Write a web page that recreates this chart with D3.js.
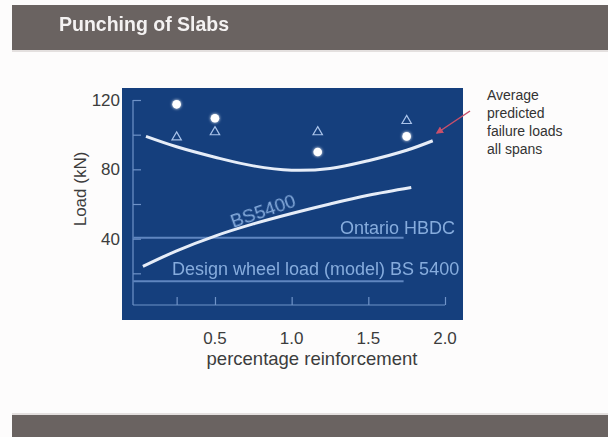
<!DOCTYPE html>
<html><head><meta charset="utf-8">
<script src="https://cdn.jsdelivr.net/npm/d3@7"></script>
<style>html,body{margin:0;padding:0;background:#fdfcfc;}svg{display:block;font-family:"Liberation Sans",Arial,sans-serif;}</style>
</head><body>
<script>
const title = "Punching of Slabs";
const yTickLabels = [40, 80, 120];
const xTickLabels = [0.5, 1.0, 1.5, 2.0];
const yInnerTicks = [20, 40, 60, 80, 100, 120];
const xInnerTicks = [0.25, 0.5, 1.0, 1.5, 2.0];
// average predicted failure loads (all spans)
const avgX = [0.05, 0.25, 0.5, 0.75, 1.0, 1.25, 1.5, 1.75, 1.92];
const avgY = [99, 93, 87, 82, 79.5, 80.5, 85, 91, 96.5];
// BS5400 curve
const bsX = [0.03, 0.25, 0.5, 0.75, 1.0, 1.25, 1.5, 1.78];
const bsY = [24, 33, 41.5, 48.5, 54.5, 60, 65, 69.5];
// test results
const circX = [0.25, 0.5, 1.17, 1.75];
const circY = [117.5, 109.5, 90, 99];
const triX = [0.25, 0.5, 1.17, 1.75];
const triY = [98.5, 101.5, 101.5, 108];
const ontarioLoad = 40.5, ontarioX = [0, 1.73];
const designLoad = 15.5, designX = [0, 1.73];
const annot = ["Average", "predicted", "failure loads", "all spans"];

const W = 608, H = 437;
const svg = d3.select("body").append("svg").attr("width", W).attr("height", H);
const defs = svg.append("defs");
const glow = defs.append("filter").attr("id","glow").attr("x","-100%").attr("y","-100%").attr("width","300%").attr("height","300%");
glow.append("feGaussianBlur").attr("stdDeviation",1.6).attr("result","b");
const fm = glow.append("feMerge"); fm.append("feMergeNode").attr("in","b"); fm.append("feMergeNode").attr("in","SourceGraphic");
const soft = defs.append("filter").attr("id","soft");
soft.append("feGaussianBlur").attr("stdDeviation",0.5);
defs.append("marker").attr("id","arr").attr("viewBox","0 0 10 10").attr("refX",8).attr("refY",5)
  .attr("markerWidth",5).attr("markerHeight",5).attr("orient","auto")
  .append("path").attr("d","M0,0L10,5L0,10z").attr("fill","#c9506b");

// header & footer bars
svg.append("rect").attr("x",12).attr("y",5).attr("width",596).attr("height",45).attr("fill","#6a6361");
svg.append("rect").attr("x",12).attr("y",50).attr("width",596).attr("height",2).attr("fill","#e4e0df");
svg.append("text").attr("x",59).attr("y",31).attr("fill","#f4f2f2").attr("font-size",19.5).attr("font-weight","bold")
  .attr("filter","url(#soft)").text(title);
svg.append("rect").attr("x",12).attr("y",415).attr("width",596).attr("height",22).attr("fill","#6a6361");
svg.append("rect").attr("x",12).attr("y",413).attr("width",596).attr("height",2).attr("fill","#e4e0df");

// panel
svg.append("rect").attr("x",122).attr("y",88).attr("width",341).attr("height",232).attr("fill","#153f7d");

const x = d3.scaleLinear().domain([0, 2]).range([138.3, 445]);
const y = d3.scaleLinear().domain([0, 120]).range([308, 100]);
const light = "#86acdd";

// inner axes
const gy = svg.append("g").attr("transform","translate(133,0)")
  .call(d3.axisRight(y).tickValues(yInnerTicks).tickSize(8).tickFormat("").tickSizeOuter(0));
const gx = svg.append("g").attr("transform","translate(0,305)")
  .call(d3.axisTop(x).tickValues(xInnerTicks).tickSize(8).tickFormat("").tickSizeOuter(0));
[gy, gx].forEach(g => { g.selectAll("path,line").attr("stroke","#6f93c8").attr("stroke-width",1.2); });
gy.select(".domain").attr("d","M0,100V305");
gx.select(".domain").attr("d","M133,0H445");

// reference lines
svg.append("line").attr("x1",x(ontarioX[0])-5).attr("x2",x(ontarioX[1])).attr("y1",y(ontarioLoad)).attr("y2",y(ontarioLoad))
  .attr("stroke","#5f86c0").attr("stroke-width",2);
svg.append("line").attr("x1",x(designX[0])-5).attr("x2",x(designX[1])).attr("y1",y(designLoad)).attr("y2",y(designLoad))
  .attr("stroke","#5f86c0").attr("stroke-width",2);
svg.append("text").attr("x",455).attr("y",234).attr("text-anchor","end").attr("fill",light).attr("font-size",18)
  .attr("filter","url(#soft)").text("Ontario HBDC");
svg.append("text").attr("x",172).attr("y",275).attr("fill",light).attr("font-size",18)
  .attr("filter","url(#soft)").text("Design wheel load (model) BS 5400");

// curves
const line = d3.line().x(d => x(d[0])).y(d => y(d[1])).curve(d3.curveCatmullRom.alpha(0.5));
svg.append("path").attr("d", line(avgX.map((v,i)=>[v,avgY[i]]))).attr("fill","none")
  .attr("stroke","#e6edf8").attr("stroke-width",3).attr("filter","url(#soft)");
svg.append("path").attr("d", line(bsX.map((v,i)=>[v,bsY[i]]))).attr("fill","none")
  .attr("stroke","#e6edf8").attr("stroke-width",3).attr("filter","url(#soft)");
svg.append("text").attr("transform","translate(265,217) rotate(-19)").attr("text-anchor","middle")
  .attr("fill",light).attr("font-size",19).attr("filter","url(#soft)").text("BS5400");

// markers
svg.selectAll(".tri").data(triX.map((v,i)=>[v,triY[i]])).join("path")
  .attr("transform", d => `translate(${x(d[0])},${y(d[1])})`)
  .attr("d", d3.symbol(d3.symbolTriangle, 38)).attr("fill","none").attr("stroke","#a9c3ea").attr("stroke-width",1.2);
svg.selectAll(".circ").data(circX.map((v,i)=>[v,circY[i]])).join("circle")
  .attr("cx", d => x(d[0])).attr("cy", d => y(d[1])).attr("r",4.3).attr("fill","#ffffff").attr("filter","url(#glow)");

// outer tick labels
svg.selectAll(".yl").data(yTickLabels).join("text").attr("x",120).attr("y", d => y(d)+6)
  .attr("text-anchor","end").attr("fill","#3c3c3c").attr("font-size",17).text(d => d);
svg.selectAll(".xl").data(xTickLabels).join("text").attr("x", d => x(d)).attr("y",344)
  .attr("text-anchor","middle").attr("fill","#3c3c3c").attr("font-size",17).text(d => d3.format(".1f")(d));
svg.append("text").attr("x",312).attr("y",365).attr("text-anchor","middle").attr("fill","#3c3c3c")
  .attr("font-size",18.5).text("percentage reinforcement");
svg.append("text").attr("transform","translate(86,189) rotate(-90)").attr("text-anchor","middle")
  .attr("fill","#3c3c3c").attr("font-size",17).text("Load (kN)");

// annotation
svg.append("line").attr("x1",470).attr("y1",111).attr("x2",437).attr("y2",133)
  .attr("stroke","#c9506b").attr("stroke-width",1.5).attr("marker-end","url(#arr)");
svg.selectAll(".an").data(annot).join("text").attr("x",487).attr("y",(d,i)=>100+i*18)
  .attr("fill","#333").attr("font-size",14).text(d => d);
</script>
</body></html>
